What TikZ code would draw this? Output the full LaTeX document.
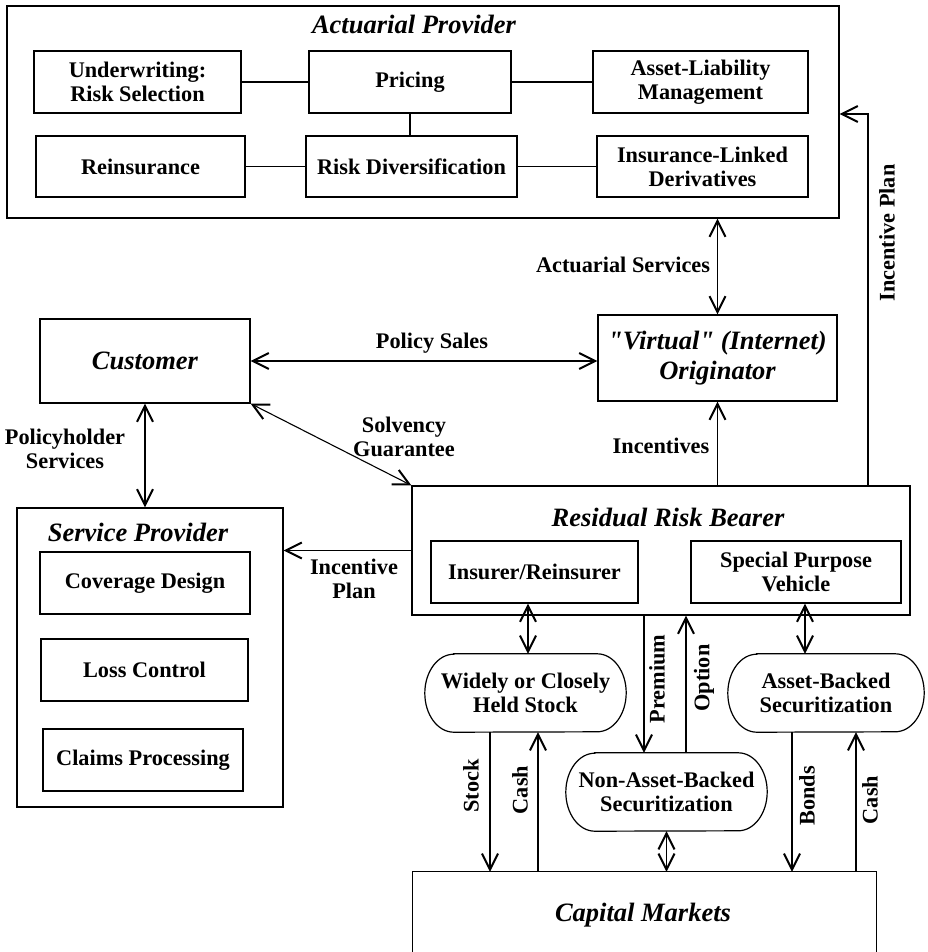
\documentclass[tikz,border=0pt]{standalone}
\usepackage{fontspec}
\setmainfont{Liberation Serif}[Ligatures=TeXOff]
\usetikzlibrary{arrows.meta}
\newcommand{\lblfont}{\bfseries\fontsize{22.3}{24}\selectfont}
\newcommand{\ttlfont}{\bfseries\itshape\fontsize{26.5}{30}\selectfont}
\tikzset{
  box/.style={draw, line width=1.2pt, inner sep=0pt, align=center, font=\lblfont},
  frame/.style={draw, line width=1.2pt, inner sep=0pt},
  pill/.style={inner sep=0pt, align=center, font=\lblfont},
  ttl/.style={inner sep=0pt, align=center, font=\ttlfont},
  lab/.style={inner sep=0pt, align=center, font=\lblfont},
  conn/.style={line width=1.1pt},
  arr/.style={line width=1.1pt, -{Straight Barb[length=16pt,width=16pt,line width=2pt]}},
  dbl/.style={line width=1.1pt, {Straight Barb[length=16pt,width=16pt,line width=2pt]}-{Straight Barb[length=16pt,width=16pt,line width=2pt]}},
  pillline/.style={line width=1.2pt}
}
\newcommand{\pillpath}[1]{%
  \draw[pillline] ([xshift=29pt]#1.north west) -- ([xshift=-29pt]#1.north east)
    arc[start angle=90,end angle=-90,x radius=29pt,y radius=39pt]
    -- ([xshift=29pt]#1.south west)
    arc[start angle=270,end angle=90,x radius=29pt,y radius=39pt] -- cycle;}
\begin{document}
\begin{tikzpicture}[x=1pt,y=-1pt]
\useasboundingbox (0,0) rectangle (927,952);

% Actuarial provider
\node[frame, minimum width=832, minimum height=212] (ap) at (423,112) {};
\node[ttl] (aptitle) at (414,24) {Actuarial Provider};
\node[box, minimum width=207, minimum height=62] (uw) at (137.5,82) {Underwriting:\\Risk Selection};
\node[box, minimum width=202, minimum height=62] (pr) at (410,82) {Pricing};
\node[box, minimum width=215, minimum height=62] (alm) at (700.5,82) {Asset-Liability\\Management};
\node[box, minimum width=209, minimum height=61] (re) at (140.5,166.5) {Reinsurance};
\node[box, minimum width=211, minimum height=61] (rd) at (411.5,166.5) {Risk Diversification};
\node[box, minimum width=211, minimum height=61] (ild) at (702.5,166.5) {Insurance-Linked\\Derivatives};
\draw[conn] (uw.east) -- (pr.west);
\draw[conn] (pr.east) -- (alm.west);
\draw[conn] (pr.south) -- (pr.south |- rd.north);
\draw[conn] (re.east) -- (rd.west);
\draw[conn] (rd.east) -- (ild.west);

% Customer and originator
\node[box, font=\ttlfont, minimum width=210, minimum height=84] (cu) at (145,361) {Customer};
\node[box, font=\ttlfont, minimum width=239, minimum height=86] (or) at (717.5,358) {"Virtual" (Internet)\\Originator};

% Service provider
\node[frame, minimum width=266, minimum height=299] (sp) at (150,657.5) {};
\node[ttl] (sptitle) at (138,532) {Service Provider};
\node[box, minimum width=210, minimum height=62] (cd) at (145,583) {Coverage Design};
\node[box, minimum width=207, minimum height=62] (lc) at (144.5,670) {Loss Control};
\node[box, minimum width=200, minimum height=62] (cp) at (143,760) {Claims Processing};

% Residual risk bearer
\node[frame, minimum width=498, minimum height=129] (rrb) at (661,550.5) {};
\node[ttl] (rrbtitle) at (668,517) {Residual Risk Bearer};
\node[box, minimum width=207, minimum height=62] (ins) at (534.5,572) {Insurer/Reinsurer};
\node[box, minimum width=210, minimum height=62] (spv) at (796,572) {Special Purpose\\Vehicle};

% Securitization shapes
\node[pill, minimum width=201, minimum height=78] (wcs) at (525.5,693) {Widely or Closely\\Held Stock};
\pillpath{wcs}
\node[pill, minimum width=196, minimum height=78] (abs) at (826,693) {Asset-Backed\\Securitization};
\pillpath{abs}
\node[pill, minimum width=201, minimum height=78] (nab) at (666.5,792) {Non-Asset-Backed\\Securitization};
\pillpath{nab}

% Capital markets (open at the bottom edge)
\node[inner sep=0pt, minimum width=463, minimum height=80] (cm) at (644.5,912) {};
\draw[line width=1.2pt] (cm.south west) -- (cm.north west) -- (cm.north east) -- (cm.south east);
\node[ttl] (cmtitle) at (643,915) {Capital Markets};

% Helper coordinates
\coordinate (ipx) at (868,114);
\coordinate (insA) at (528,0);
\coordinate (spvA) at (805,0);
\coordinate (premX) at (644,0);
\coordinate (optX) at (686,0);
\coordinate (stockX) at (490,0);
\coordinate (cashL) at (538,0);
\coordinate (bondX) at (792,0);
\coordinate (cashR) at (856,0);

% Connectors
\draw[dbl] (or.north) -- (or.north |- ap.south);
\draw[dbl] (cu.east) -- (cu.east -| or.west);
\draw[arr] (rrb.north -| ipx) -- (ipx) -- (ipx -| ap.east);
\draw[arr] (rrb.north -| or.south) -- (or.south);
\draw[dbl] (cu.south east) -- (rrb.north west);
\draw[dbl] (cu.south) -- (cu.south |- sp.north);
\draw[arr] (rrb.west) -- (rrb.west -| sp.east);
\draw[dbl] (ins.south -| insA) -- (wcs.north -| insA);
\draw[dbl] (spv.south -| spvA) -- (abs.north -| spvA);
\draw[arr] (rrb.south -| premX) -- (nab.north -| premX);
\draw[arr] (nab.north -| optX) -- (rrb.south -| optX);
\draw[dbl] (nab.south) -- (nab.south |- cm.north);
\draw[arr] (wcs.south -| stockX) -- (cm.north -| stockX);
\draw[arr] (cm.north -| cashL) -- (wcs.south -| cashL);
\draw[arr] (abs.south -| bondX) -- (cm.north -| bondX);
\draw[arr] (cm.north -| cashR) -- (abs.south -| cashR);

% Labels
\node[lab] (lAS) at (623,265) {Actuarial Services};
\node[lab] (lPS) at (432,343) {Policy Sales};
\node[lab] (lSG) at (404,437) {Solvency\\Guarantee};
\node[lab] (lPH) at (65,449) {Policyholder\\Services};
\node[lab] (lInc) at (661,446) {Incentives};
\node[lab] (lIPL) at (354,579) {Incentive\\Plan};
\node[lab, rotate=90] (lIPR) at (887,233) {Incentive Plan};
\node[lab, rotate=90] (lPrem) at (657,679) {Premium};
\node[lab, rotate=90] (lOpt) at (704,678) {Option};
\node[lab, rotate=90] (lStock) at (471,786) {Stock};
\node[lab, rotate=90] (lCashL) at (520,790) {Cash};
\node[lab, rotate=90] (lBonds) at (807,796) {Bonds};
\node[lab, rotate=90] (lCashR) at (870,800) {Cash};
\end{tikzpicture}
\end{document}
